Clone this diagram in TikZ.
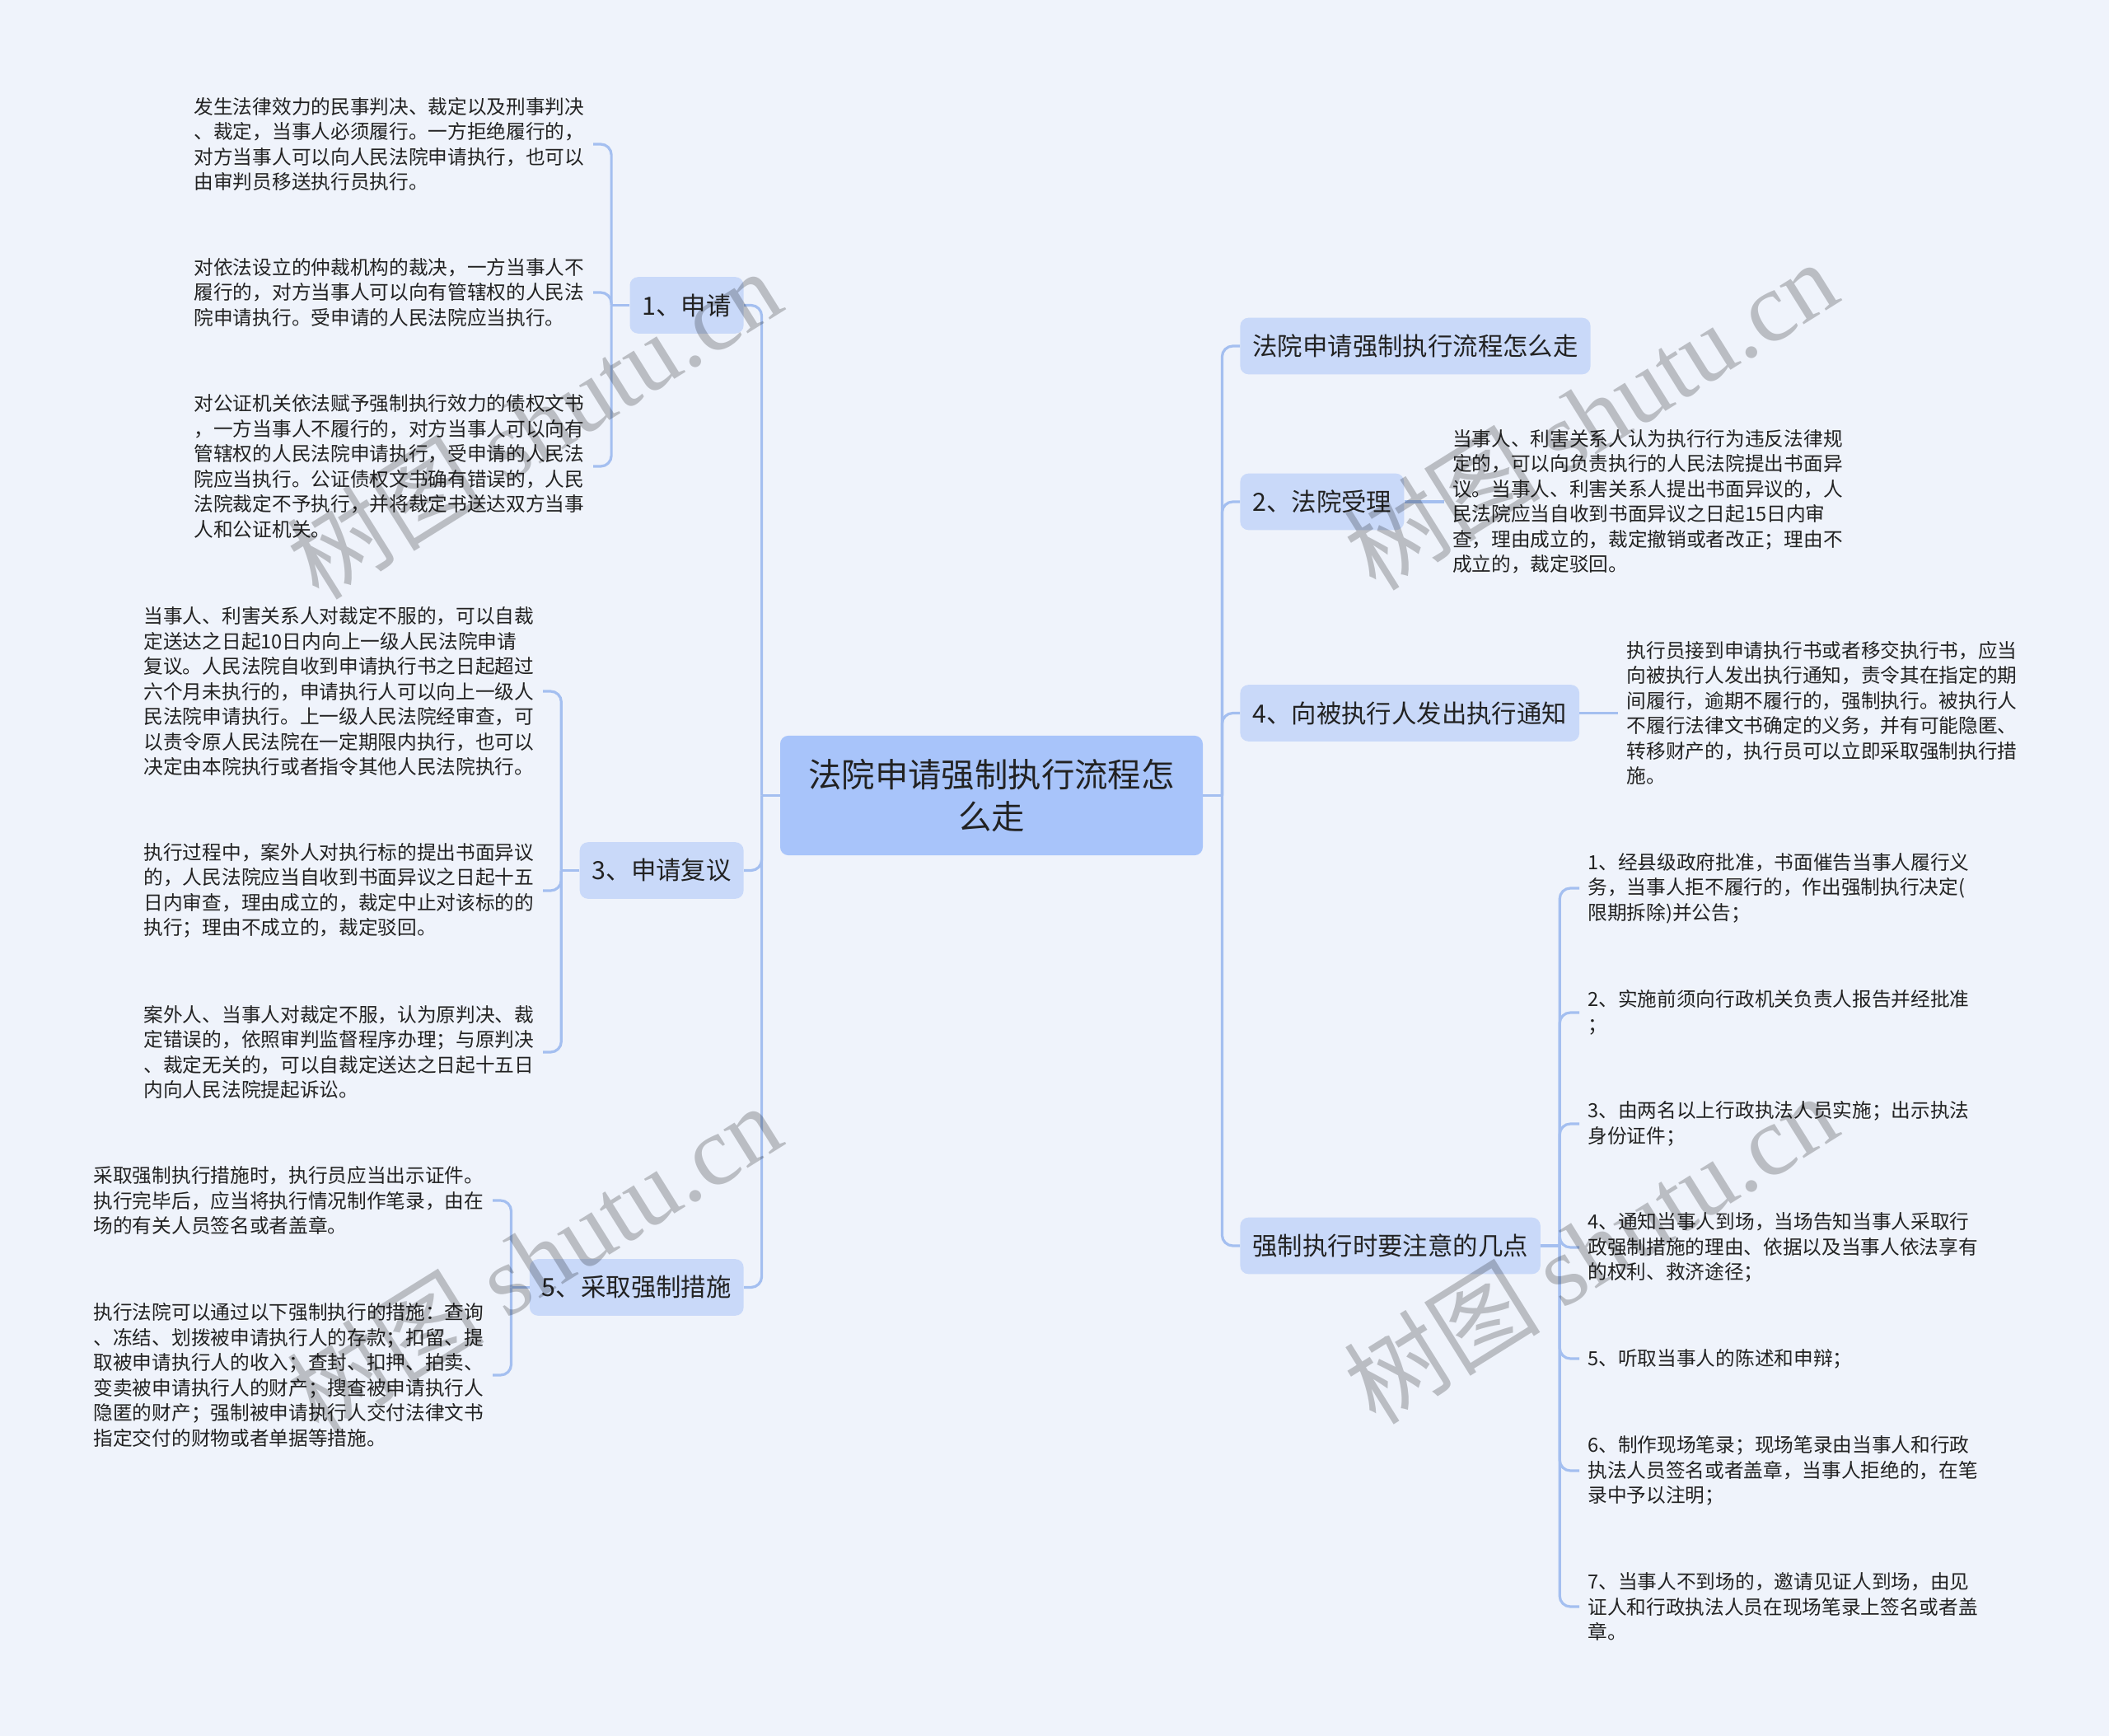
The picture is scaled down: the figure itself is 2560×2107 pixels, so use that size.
\documentclass[tikz,border=0pt]{standalone}
\usepackage{fontspec}
\setmainfont{Noto Sans CJK SC}
\newfontfamily\wmlatin{Liberation Serif}
\usetikzlibrary{positioning}
\definecolor{bgcol}{RGB}{239,243,251}
\definecolor{rootfill}{RGB}{168,196,250}
\definecolor{branchfill}{RGB}{201,217,249}
\definecolor{linkcol}{RGB}{164,191,240}
\definecolor{txtcol}{RGB}{34,34,34}

\begin{document}
\begin{tikzpicture}[x=0.5pt,y=-0.5pt]
  \tikzstyle{rootbox}=[fill=rootfill,rounded corners=5pt,align=center,minimum width=256.5pt,minimum height=72.6pt,font=\fontsize{20.2pt}{25.3pt}\selectfont,text=txtcol]
  \tikzstyle{branchbox}=[fill=branchfill,rounded corners=5pt,inner xsep=7.5pt,minimum height=34.3pt,font=\fontsize{15.2pt}{19pt}\selectfont,text=txtcol]
  \tikzstyle{leaftext}=[align=left,text width=237pt,inner xsep=5pt,inner ysep=2pt,font=\fontsize{11.84pt}{15.25pt}\selectfont,text=txtcol]
  \tikzstyle{linkline}=[draw=linkcol,line width=1.6pt,rounded corners=6.5pt]
  \tikzstyle{shuiyin}=[text=black,text opacity=0.22,font=\fontsize{60pt}{60pt}\selectfont,rotate=32]
  \useasboundingbox (0,0) rectangle (2560,2107);
  \fill[bgcol] (0,0) rectangle (2560,2107);

  \node[rootbox] (root) at (1203.5,965.5) {法院申请强制执行流程怎\\么走};

  \node[branchbox,anchor=east] (apply) at (903,370.5) {1、申请};
  \node[branchbox,anchor=east] (review) at (903,1056.5) {3、申请复议};
  \node[branchbox,anchor=east] (measure) at (903,1562.5) {5、采取强制措施};

  \node[branchbox,anchor=west] (title) at (1505,420) {法院申请强制执行流程怎么走};
  \node[branchbox,anchor=west] (accept) at (1505,609) {2、法院受理};
  \node[branchbox,anchor=west] (notice) at (1505,865.5) {4、向被执行人发出执行通知};
  \node[branchbox,anchor=west] (points) at (1505,1512) {强制执行时要注意的几点};

  \node[leaftext,anchor=east] (apply1) at (720,175) {发生法律效力的民事判决、裁定以及刑事判决\\、裁定，当事人必须履行。一方拒绝履行的，\\对方当事人可以向人民法院申请执行，也可以\\由审判员移送执行员执行。};
  \node[leaftext,anchor=east] (apply2) at (720,355) {对依法设立的仲裁机构的裁决，一方当事人不\\履行的，对方当事人可以向有管辖权的人民法\\院申请执行。受申请的人民法院应当执行。};
  \node[leaftext,anchor=east] (apply3) at (720,566) {对公证机关依法赋予强制执行效力的债权文书\\，一方当事人不履行的，对方当事人可以向有\\管辖权的人民法院申请执行，受申请的人民法\\院应当执行。公证债权文书确有错误的，人民\\法院裁定不予执行，并将裁定书送达双方当事\\人和公证机关。};

  \node[leaftext,anchor=east] (review1) at (659,839) {当事人、利害关系人对裁定不服的，可以自裁\\定送达之日起10日内向上一级人民法院申请\\复议。人民法院自收到申请执行书之日起超过\\六个月未执行的，申请执行人可以向上一级人\\民法院申请执行。上一级人民法院经审查，可\\以责令原人民法院在一定期限内执行，也可以\\决定由本院执行或者指令其他人民法院执行。};
  \node[leaftext,anchor=east] (review2) at (659,1081) {执行过程中，案外人对执行标的提出书面异议\\的，人民法院应当自收到书面异议之日起十五\\日内审查，理由成立的，裁定中止对该标的的\\执行；理由不成立的，裁定驳回。};
  \node[leaftext,anchor=east] (review3) at (659,1277) {案外人、当事人对裁定不服，认为原判决、裁\\定错误的，依照审判监督程序办理；与原判决\\、裁定无关的，可以自裁定送达之日起十五日\\内向人民法院提起诉讼。};

  \node[leaftext,anchor=east] (measure1) at (598,1457) {采取强制执行措施时，执行员应当出示证件。\\执行完毕后，应当将执行情况制作笔录，由在\\场的有关人员签名或者盖章。};
  \node[leaftext,anchor=east] (measure2) at (598,1669) {执行法院可以通过以下强制执行的措施：查询\\、冻结、划拨被申请执行人的存款；扣留、提\\取被申请执行人的收入；查封、扣押、拍卖、\\变卖被申请执行人的财产；搜查被申请执行人\\隐匿的财产；强制被申请执行人交付法律文书\\指定交付的财物或者单据等措施。};

  \node[leaftext,right=24pt of accept] (accept1) {当事人、利害关系人认为执行行为违反法律规\\定的，可以向负责执行的人民法院提出书面异\\议。当事人、利害关系人提出书面异议的，人\\民法院应当自收到书面异议之日起15日内审\\查，理由成立的，裁定撤销或者改正；理由不\\成立的，裁定驳回。};
  \node[leaftext,right=23.5pt of notice] (notice1) {执行员接到申请执行书或者移交执行书，应当\\向被执行人发出执行通知，责令其在指定的期\\间履行，逾期不履行的，强制执行。被执行人\\不履行法律文书确定的义务，并有可能隐匿、\\转移财产的，执行员可以立即采取强制执行措\\施。};

  \node[leaftext,anchor=west] (points1) at (1917,1078) {1、经县级政府批准，书面催告当事人履行义\\务，当事人拒不履行的，作出强制执行决定(\\限期拆除)并公告；};
  \node[leaftext,anchor=west] (points2) at (1917,1229) {2、实施前须向行政机关负责人报告并经批准\\；};
  \node[leaftext,anchor=west] (points3) at (1917,1364) {3、由两名以上行政执法人员实施；出示执法\\身份证件；};
  \node[leaftext,anchor=west] (points4) at (1917,1514) {4、通知当事人到场，当场告知当事人采取行\\政强制措施的理由、依据以及当事人依法享有\\的权利、救济途径；};
  \node[leaftext,anchor=west] (points5) at (1917,1649) {5、听取当事人的陈述和申辩；};
  \node[leaftext,anchor=west] (points6) at (1917,1785) {6、制作现场笔录；现场笔录由当事人和行政\\执法人员签名或者盖章，当事人拒绝的，在笔\\录中予以注明；};
  \node[leaftext,anchor=west] (points7) at (1917,1950) {7、当事人不到场的，邀请见证人到场，由见\\证人和行政执法人员在现场笔录上签名或者盖\\章。};

  \draw[linkline] (root.west) -- ++(-22,0) coordinate (lj);
  \draw[linkline] (lj) |- (apply.east);
  \draw[linkline] (lj) |- (review.east);
  \draw[linkline] (lj) |- (measure.east);
  \draw[linkline] (root.east) -- ++(23,0) coordinate (rj);
  \draw[linkline] (rj) |- (title.west);
  \draw[linkline] (rj) |- (accept.west);
  \draw[linkline] (rj) |- (notice.west);
  \draw[linkline] (rj) |- (points.west);

  \draw[linkline] (apply.west) -- ++(-22,0) coordinate (aj);
  \draw[linkline] (aj) |- (apply1.east);
  \draw[linkline] (aj) |- (apply2.east);
  \draw[linkline] (aj) |- (apply3.east);
  \draw[linkline] (review.west) -- ++(-22,0) coordinate (vj);
  \draw[linkline] (vj) |- (review1.east);
  \draw[linkline] (vj) |- (review2.east);
  \draw[linkline] (vj) |- (review3.east);
  \draw[linkline] (measure.west) -- ++(-22,0) coordinate (mj);
  \draw[linkline] (mj) |- (measure1.east);
  \draw[linkline] (mj) |- (measure2.east);

  \draw[linkline] (accept) -- (accept1);
  \draw[linkline] (notice) -- (notice1);
  \draw[linkline] (points.east) -- ++(23,0) coordinate (pj);
  \draw[linkline] (pj) |- (points1.west);
  \draw[linkline] (pj) |- (points2.west);
  \draw[linkline] (pj) |- (points3.west);
  \draw[linkline] (pj) |- (points4.west);
  \draw[linkline] (pj) |- (points5.west);
  \draw[linkline] (pj) |- (points6.west);
  \draw[linkline] (pj) |- (points7.west);

  \node[shuiyin] (wm1) at (648,514) {树图 {\wmlatin shutu.cn}};
  \node[shuiyin] (wm2) at (1930,503) {树图 {\wmlatin shutu.cn}};
  \node[shuiyin] (wm3) at (648,1527) {树图 {\wmlatin shutu.cn}};
  \node[shuiyin] (wm4) at (1930,1515) {树图 {\wmlatin shutu.cn}};
\end{tikzpicture}
\end{document}
